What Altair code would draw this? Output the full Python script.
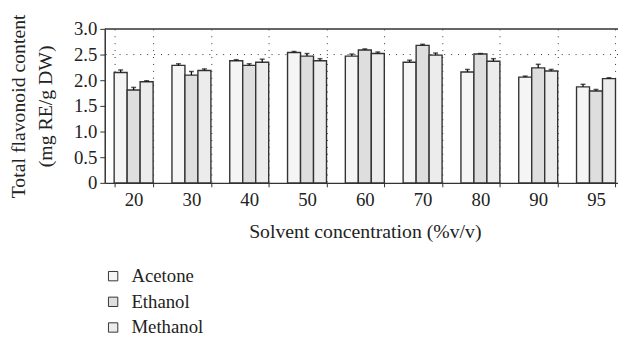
import altair as alt
import pandas as pd

concentrations = ["20", "30", "40", "50", "60", "70", "80", "90", "95"]
solvents = ["Acetone", "Ethanol", "Methanol"]
acetone = [2.15, 2.29, 2.38, 2.54, 2.47, 2.35, 2.16, 2.06, 1.87]
ethanol = [1.81, 2.10, 2.29, 2.47, 2.59, 2.68, 2.51, 2.24, 1.79]
methanol = [1.97, 2.19, 2.35, 2.38, 2.52, 2.49, 2.37, 2.18, 2.03]
acetone_err = [0.05, 0.03, 0.02, 0.02, 0.04, 0.04, 0.05, 0.02, 0.05]
ethanol_err = [0.05, 0.07, 0.03, 0.05, 0.02, 0.02, 0.01, 0.07, 0.03]
methanol_err = [0.02, 0.03, 0.06, 0.04, 0.03, 0.04, 0.05, 0.03, 0.02]
y_ticks = [0, 0.5, 1.0, 1.5, 2.0, 2.5, 3.0]
fills = ["#f5f5f5", "#dedede", "#ececec"]

rows = []
for vals, errs, s in [(acetone, acetone_err, "Acetone"),
                      (ethanol, ethanol_err, "Ethanol"),
                      (methanol, methanol_err, "Methanol")]:
    for c, v, e in zip(concentrations, vals, errs):
        rows.append({"conc": c, "solvent": s, "value": v, "err": e})
df = pd.DataFrame(rows)

FONT = "Liberation Serif"
xscale = alt.Scale(domain=concentrations, range=[0, 527], paddingInner=0.326, paddingOuter=0.163)
yscale = alt.Scale(domain=[0, 3.0])

x_axis = alt.Axis(title="Solvent concentration (%v/v)", labelAngle=0,
                  grid=True, gridDash=[1, 6], gridColor="#333", gridWidth=1,
                  tickBand="extent", tickSize=4, tickColor="#333",
                  domainColor="#333", domainWidth=1.5,
                  labelPadding=4, titlePadding=12,
                  labelFont=FONT, titleFont=FONT, labelColor="#222", titleColor="#222",
                  titleFontWeight="normal", labelFontSize=19, titleFontSize=20)
y_axis = alt.Axis(title=["Total flavonoid content", "(mg RE/g DW)"],
                  values=y_ticks,
                  labelExpr="datum.value == 0 ? '0' : format(datum.value, '.1f')",
                  labelOverlap=False,
                  grid=False, tickSize=5, tickColor="#333",
                  domainColor="#333", domainWidth=1.5, labelPadding=3,
                  labelFont=FONT, titleFont=FONT, labelColor="#222", titleColor="#222",
                  titleFontWeight="normal", labelFontSize=19, titleFontSize=20,
                  titleLineHeight=27, titleX=-81, titleBaseline="alphabetic")

base = alt.Chart(df)
x_enc = alt.X("conc:N", sort=concentrations, scale=xscale, axis=x_axis)
xo_enc = alt.XOffset("solvent:N", sort=solvents)

ref_line = alt.Chart(pd.DataFrame({"y": [2.5]})).mark_rule(
    strokeDash=[1, 6], color="#333", strokeWidth=1).encode(
    y=alt.Y("y:Q", scale=yscale, axis=y_axis))

bars = base.mark_bar(stroke="#333", strokeWidth=1.4).encode(
    x=x_enc,
    xOffset=xo_enc,
    y=alt.Y("value:Q", scale=yscale, axis=y_axis),
    fill=alt.Fill("solvent:N", sort=solvents,
                  scale=alt.Scale(domain=solvents, range=fills),
                  legend=alt.Legend(title=None, orient="none", legendX=-1, legendY=241,
                                    symbolType="square", symbolSize=90,
                                    symbolStrokeColor="#333", symbolStrokeWidth=1,
                                    labelOffset=9, rowPadding=6, padding=0)),
)

err_rule = base.transform_calculate(upper="datum.value + datum.err").mark_rule(
    color="#111", strokeWidth=1.3).encode(
    x=x_enc,
    xOffset=xo_enc,
    y=alt.Y("value:Q", scale=yscale, axis=y_axis),
    y2="upper:Q",
)
err_cap = base.transform_calculate(upper="datum.value + datum.err").mark_tick(
    color="#111", thickness=1.5, size=5).encode(
    x=x_enc,
    xOffset=xo_enc,
    y=alt.Y("upper:Q", scale=yscale, axis=y_axis),
)

top_line = alt.Chart(pd.DataFrame({"y": [3.0]})).mark_rule(
    color="#333", strokeWidth=1.5).encode(y=alt.Y("y:Q", scale=yscale, axis=y_axis))

chart = alt.layer(ref_line, bars, err_rule, err_cap, top_line).properties(
    width=520, height=156,
    autosize=alt.AutoSizeParams(type="none"),
    padding={"left": 98, "top": 19, "right": 0, "bottom": 156},
).configure_view(stroke=None).configure_legend(
    labelFont=FONT, labelColor="#222", labelFontSize=19,
)

chart.save("out.html", embed_options={"renderer": "svg", "actions": False})
